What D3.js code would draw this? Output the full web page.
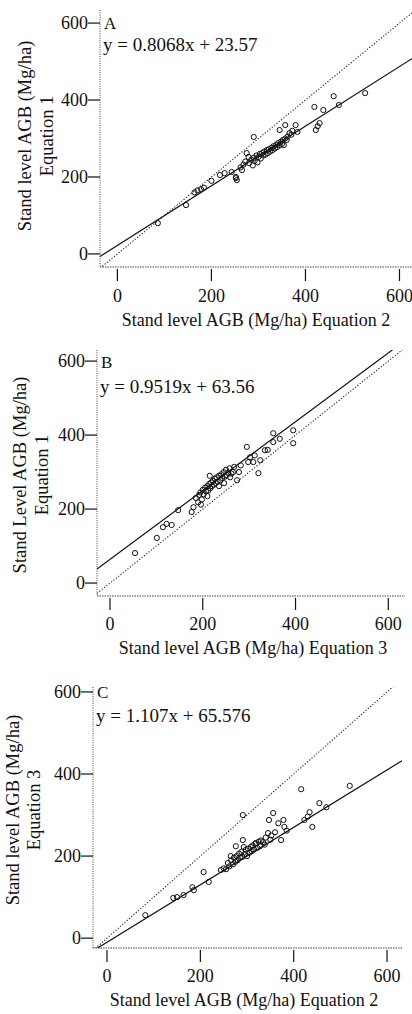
<!DOCTYPE html>
<html>
<head>
<meta charset="utf-8">
<script src="https://cdn.jsdelivr.net/npm/d3@7"></script>
<style>
body { margin: 0; background: #fff; }
svg { display: block; }
text { font-family: "Liberation Serif", "DejaVu Serif", serif; fill: #111; }
</style>
</head>
<body>
<svg id="chart" width="412" height="1014"></svg>
<script>
const ticks = [0, 200, 400, 600]
const panelLetters = ["A", "B", "C"]
const equations = ["y = 0.8068x + 23.57", "y = 0.9519x + 63.56", "y = 1.107x + 65.576"]
const yTitles = [
    ["Stand level AGB (Mg/ha)", "Equation 1"],
    ["Stand Level AGB (Mg/ha)", "Equation 1"],
    ["Stand level AGB (Mg/ha)", "Equation 3"],
]
const xTitles = [
    "Stand level AGB (Mg/ha) Equation 2",
    "Stand level AGB (Mg/ha) Equation 3",
    "Stand level AGB (Mg/ha) Equation 2",
]
const xDomains = [[-37, 633], [-28, 636], [-30, 632]]
const yDomains = [[-34, 634], [-35, 630], [-24, 612]]
// regression line as drawn: [slope, intercept]
const fits = [[0.775, 22], [0.93, 64], [0.70, -10]]

const ptsA = [
    [86, 80], [146, 127], [164, 160], [170, 165], [178, 168], [184, 172], [200, 190], [218, 205],
    [228, 210], [243, 213], [254, 192], [252, 200], [262, 225], [268, 232], [279, 252], [290, 304],
    [272, 240], [280, 236], [285, 245], [290, 250], [292, 242], [296, 256], [300, 252], [303, 260],
    [305, 248], [308, 262], [310, 256], [312, 266], [315, 258], [318, 270], [320, 262], [322, 272],
    [325, 266], [328, 276], [330, 270], [332, 280], [335, 274], [338, 284], [340, 278], [342, 288],
    [345, 282], [348, 292], [350, 286], [352, 296], [354, 283], [357, 300], [360, 296], [362, 305],
    [366, 314], [370, 310], [372, 320], [379, 335], [383, 317], [357, 335], [345, 322], [419, 382],
    [426, 332], [422, 322], [430, 340], [438, 374], [460, 410], [471, 387], [527, 418], [288, 230],
    [298, 238], [275, 262], [265, 218], [252, 197],
]
const ptsB = [
    [54, 81], [101, 122], [114, 151], [122, 160], [133, 157], [147, 197], [176, 192], [180, 205],
    [185, 230], [190, 218], [192, 238], [195, 245], [198, 226], [200, 252], [202, 240], [205, 258],
    [207, 248], [210, 262], [212, 250], [214, 268], [216, 256], [218, 272], [220, 262], [222, 276],
    [224, 266], [226, 282], [228, 270], [230, 286], [232, 274], [235, 290], [238, 278], [240, 294],
    [242, 284], [245, 300], [248, 288], [250, 306], [252, 292], [255, 298], [258, 310], [259, 286],
    [262, 296], [265, 300], [268, 314], [274, 278], [278, 300], [282, 318], [295, 368], [298, 327],
    [302, 340], [309, 327], [312, 345], [320, 297], [324, 332], [334, 359], [340, 360], [352, 381],
    [352, 405], [366, 390], [395, 413], [395, 378], [215, 290], [210, 235], [196, 212], [235, 262],
    [246, 270],
]
const ptsC = [
    [82, 56], [142, 98], [150, 100], [164, 105], [183, 124], [186, 117], [207, 161], [218, 137],
    [244, 166], [250, 170], [259, 183], [262, 175], [266, 190], [270, 180], [272, 196], [275, 186],
    [276, 224], [278, 200], [280, 190], [283, 206], [285, 196], [288, 210], [290, 198], [291, 239],
    [291, 300], [293, 222], [295, 205], [297, 215], [300, 200], [302, 218], [305, 208], [308, 222],
    [310, 212], [312, 226], [315, 216], [318, 230], [319, 232], [322, 220], [325, 235], [328, 224],
    [330, 238], [334, 234], [338, 228], [340, 245], [345, 256], [347, 288], [350, 240], [352, 250],
    [356, 305], [360, 258], [367, 280], [373, 239], [378, 288], [380, 271], [385, 262], [416, 363],
    [423, 288], [430, 296], [434, 307], [440, 271], [455, 329], [470, 319], [520, 371], [265, 200],
    [255, 168],
]
const points = [ptsA, ptsB, ptsC]

// pixel layout of each panel
const layout = [
    {left: 100, right: 415, top: 10, bottom: 267, tickY: 302, titleY: 326, titleX: 256,
     yt: [25, 47], ytY: 136, letterY: 29, eqY: 51},
    {left: 97, right: 405, top: 350, bottom: 596, tickY: 630, titleY: 654, titleX: 253,
     yt: [20, 42], ytY: 475, letterY: 368, eqY: 393},
    {left: 93, right: 402, top: 687, bottom: 948, tickY: 982, titleY: 1006, titleX: 244,
     yt: [13, 34], ytY: 810, letterY: 698, eqY: 722},
]

const svg = d3.select("#chart")

function drawPanel(i) {
    let L = layout[i]
    let x = d3.scaleLinear().domain(xDomains[i]).range([L.left, L.right])
    let y = d3.scaleLinear().domain(yDomains[i]).range([L.bottom, L.top])
    let g = svg.append("g")

    g.append("clipPath").attr("id", "clip" + i)
        .append("rect")
        .attr("x", L.left).attr("y", L.top)
        .attr("width", L.right - L.left).attr("height", L.bottom - L.top)

    // axis lines (dotted, like the scan)
    g.append("line")
        .attr("x1", L.left).attr("x2", L.left)
        .attr("y1", L.top).attr("y2", L.bottom)
        .attr("stroke", "#444").attr("stroke-dasharray", "1 1.3")
    g.append("line")
        .attr("x1", L.left).attr("x2", L.right)
        .attr("y1", L.bottom).attr("y2", L.bottom)
        .attr("stroke", "#444").attr("stroke-dasharray", "1.5 1")

    // y ticks
    g.selectAll(".yt").data(ticks).join("line")
        .attr("x1", L.left - 12).attr("x2", L.left)
        .attr("y1", d => y(d)).attr("y2", d => y(d))
        .attr("stroke", "#111").attr("stroke-width", 1.2)
    g.selectAll(".yl").data(ticks).join("text")
        .attr("x", L.left - 12).attr("y", d => y(d))
        .attr("dy", "0.35em").attr("text-anchor", "end")
        .attr("font-size", 18)
        .text(d => d)

    // x ticks
    g.selectAll(".xt").data(ticks).join("line")
        .attr("x1", d => x(d)).attr("x2", d => x(d))
        .attr("y1", L.bottom + 2).attr("y2", L.bottom + 14)
        .attr("stroke", "#111").attr("stroke-width", 1.2)
    g.selectAll(".xl").data(ticks).join("text")
        .attr("x", d => x(d)).attr("y", L.tickY)
        .attr("text-anchor", "middle")
        .attr("font-size", 18)
        .text(d => d)

    // 1:1 line (dotted) and regression line (solid)
    let plot = g.append("g").attr("clip-path", `url(#clip${i})`)
    let xd = xDomains[i]
    plot.append("line")
        .attr("x1", x(xd[0])).attr("y1", y(xd[0]))
        .attr("x2", x(xd[1])).attr("y2", y(xd[1]))
        .attr("stroke", "#222").attr("stroke-width", 1.1)
        .attr("stroke-dasharray", "1.2 1.8")
    let [m, b] = fits[i]
    plot.append("line")
        .attr("x1", x(xd[0])).attr("y1", y(m * xd[0] + b))
        .attr("x2", x(xd[1])).attr("y2", y(m * xd[1] + b))
        .attr("stroke", "#111").attr("stroke-width", 1.2)

    plot.selectAll("circle").data(points[i]).join("circle")
        .attr("cx", d => x(d[0])).attr("cy", d => y(d[1]))
        .attr("r", 2.6)
        .attr("fill", "none").attr("stroke", "#111").attr("stroke-width", 1)

    // panel letter and equation
    g.append("text")
        .attr("x", L.left + 4).attr("y", L.letterY)
        .attr("font-size", 17)
        .text(panelLetters[i])
    g.append("text")
        .attr("x", L.left + 3).attr("y", L.eqY)
        .attr("font-size", 19)
        .text(equations[i])

    // axis titles
    g.append("text")
        .attr("x", L.titleX).attr("y", L.titleY)
        .attr("text-anchor", "middle")
        .attr("font-size", 18)
        .text(xTitles[i])
    yTitles[i].forEach((t, k) => {
        g.append("text")
            .attr("transform", `translate(${L.yt[k]},${L.ytY}) rotate(-90)`)
            .attr("text-anchor", "middle")
            .attr("dy", "0.35em")
            .attr("font-size", 18.5)
            .text(t)
    })
}

for (let i = 0; i < 3; i++) {
    drawPanel(i)
}
</script>
</body>
</html>
